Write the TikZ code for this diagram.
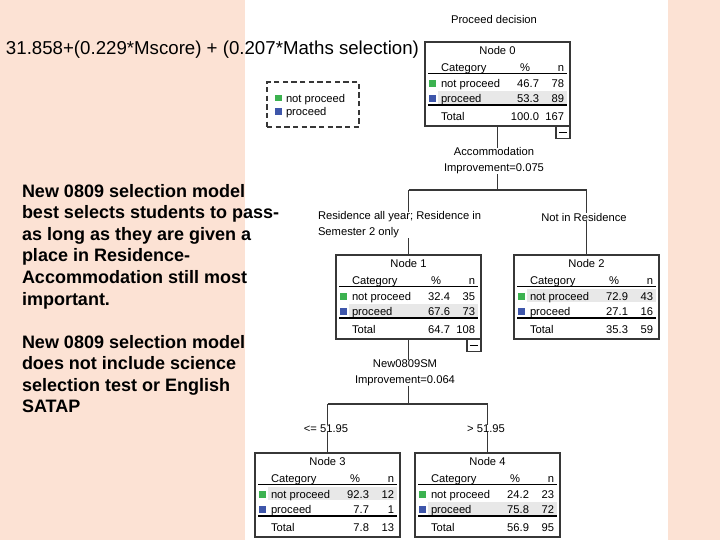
\documentclass[tikz,border=0pt]{standalone}
\usepackage{fontspec}
\setmainfont{Liberation Sans}
\definecolor{pinkbg}{RGB}{252,226,212}
\definecolor{npgreen}{RGB}{60,178,80}
\definecolor{pblue}{RGB}{62,86,170}
\definecolor{bandgrey}{RGB}{232,232,232}
\definecolor{boxgrey}{RGB}{55,55,55}
\newcommand\tsz{\fontsize{8.4pt}{12pt}\selectfont}
\tikzset{
  tt/.style={inner sep=0pt, outer sep=0pt, font=\tsz},
  lab/.style={inner sep=0pt, outer sep=0pt, font=\tsz, align=center},
  tabbox/.style={draw=boxgrey, line width=1pt, minimum width=108.75pt, minimum height=63pt, inner sep=0pt, outer sep=0pt, anchor=north west},
  sqmark/.style={inner sep=0pt, outer sep=0pt, minimum size=4.6pt},
  rulethin/.style={line width=0.75pt, black},
  rulethick/.style={line width=1.5pt, black},
  conn/.style={line width=0.8pt, boxgrey},
  minusbox/.style={draw=boxgrey, line width=0.9pt, minimum width=10.5pt, minimum height=9.5pt, inner sep=0pt, outer sep=0pt, anchor=north east},
  legbox/.style={draw=boxgrey, line width=1.1pt, dash pattern=on 4pt off 2.5pt, minimum width=69pt, minimum height=33.75pt, inner sep=0pt},
  lefttxt/.style={inner sep=0pt, outer sep=0pt, anchor=base west, font=\fontsize{13.5pt}{16pt}\selectfont\bfseries},
}
% #1 name, #2 number, #3 grey band y, #4 np %, #5 np n, #6 p %, #7 p n, #8 total %, #9 total n
\newcommand\carttable[9]{%
  \fill[bandgrey] (13,#3) rectangle (142,#3+13);
  \node[tabbox] (#1) at (0,0) {};
  \node[tt,anchor=base] (#1-h) at (72.5,12) {Node #2};
  \node[tt,anchor=base west] (#1-c) at (16,29) {Category};
  \node[tt,anchor=base] (#1-pc) at (100,29) {\%};
  \node[tt,anchor=base east] (#1-nc) at (139,29) {n};
  \draw[rulethin] (3,31.5) -- (142,31.5);
  \node[sqmark,fill=npgreen] (#1-s1) at (7.5,41.5) {};
  \node[tt,anchor=base west] (#1-l1) at (16,45) {not proceed};
  \node[tt,anchor=base east] (#1-p1) at (114,45) {#4};
  \node[tt,anchor=base east] (#1-n1) at (139,45) {#5};
  \node[sqmark,fill=pblue] (#1-s2) at (7.5,56.5) {};
  \node[tt,anchor=base west] (#1-l2) at (16,60) {proceed};
  \node[tt,anchor=base east] (#1-p2) at (114,60) {#6};
  \node[tt,anchor=base east] (#1-n2) at (139,60) {#7};
  \draw[rulethick] (3,62.5) -- (142,62.5);
  \node[tt,anchor=base west] (#1-l3) at (16,78) {Total};
  \node[tt,anchor=base east] (#1-p3) at (114,78) {#8};
  \node[tt,anchor=base east] (#1-n3) at (139,78) {#9};
}
\newcommand\minusmark[1]{%
  \node[minusbox] (#1-m) at (#1.south east) {};
  \draw[line width=0.8pt, black] ([xshift=2.2pt]#1-m.west) -- ([xshift=-2.2pt]#1-m.east);
}
\begin{document}
\begin{tikzpicture}[x=0.75pt,y=-0.75pt]
\useasboundingbox (0,0) rectangle (720,540);
\fill[pinkbg] (0,0) rectangle (720,540);
\fill[white] (245,0) rectangle (668,540);

% title and left text
\node[inner sep=0pt, outer sep=0pt, anchor=base west, font=\fontsize{14pt}{16pt}\selectfont] (title) at (6,54) {31.858+(0.229*Mscore) + (0.207*Maths selection)};
\node[lefttxt] (l1) at (22,197) {New 0809 selection model};
\node[lefttxt] (l2) at (22,218.6) {best selects students to pass-};
\node[lefttxt] (l3) at (22,240.2) {as long as they are given a};
\node[lefttxt] (l4) at (22,261.8) {place in Residence-};
\node[lefttxt] (l5) at (22,283.4) {Accommodation still most};
\node[lefttxt] (l6) at (22,305) {important.};
\node[lefttxt] (l7) at (22,348) {New 0809 selection model};
\node[lefttxt] (l8) at (22,369.6) {does not include science};
\node[lefttxt] (l9) at (22,391.2) {selection test or English};
\node[lefttxt] (l10) at (22,412.8) {SATAP};

% legend
\node[legbox] (leg) at (313,104.5) {};
\node[sqmark,fill=npgreen] (leg-s1) at (278.5,98) {};
\node[tt,anchor=base west] (leg-t1) at (286,102) {not proceed};
\node[sqmark,fill=pblue] (leg-s2) at (278.5,111.5) {};
\node[tt,anchor=base west] (leg-t2) at (286,115.5) {proceed};

% tree
\node[tt,anchor=base] (pd) at (494,23) {Proceed decision};
\begin{scope}[shift={(425,42)}]
  \carttable{n0}{0}{48.5}{46.7}{78}{53.3}{89}{100.0}{167}
\end{scope}
\minusmark{n0}
\begin{scope}[shift={(336,255)}]
  \carttable{n1}{1}{48.5}{32.4}{35}{67.6}{73}{64.7}{108}
\end{scope}
\minusmark{n1}
\begin{scope}[shift={(514,255)}]
  \carttable{n2}{2}{34}{72.9}{43}{27.1}{16}{35.3}{59}
\end{scope}
\begin{scope}[shift={(255,453)}]
  \carttable{n3}{3}{34}{92.3}{12}{7.7}{1}{7.8}{13}
\end{scope}
\begin{scope}[shift={(415,453)}]
  \carttable{n4}{4}{48.5}{24.2}{23}{75.8}{72}{56.9}{95}
\end{scope}

% split labels
\node[lab] (s0) at (494,161) {Accommodation\\Improvement=0.075};
\node[lab] (s1) at (405,373) {New0809SM\\Improvement=0.064};
\node[inner sep=0pt, outer sep=0pt, font=\tsz, align=left, anchor=west] (b1) at (318,225) {Residence all year; Residence in\\Semester 2 only};
\node[lab] (b2) at (584,217) {Not in Residence};
\node[lab] (b3) at (326,428.5) {<= 51.95};
\node[lab] (b4) at (486,428.5) {> 51.95};
\coordinate (j0) at (497,190);
\coordinate (j1) at (408,404);

% connectors
\draw[conn] (n0.south) -- (n0.south |- s0.north);
\draw[conn] (n0.south |- s0.south) -- (n0.south |- j0);
\draw[conn] (n1.north |- j0) -- (n2.north |- j0);
\draw[conn] (n1.north |- j0) -- (n1.north |- b1.north);
\draw[conn] (n1.north |- b1.south) -- (n1.north);
\draw[conn] (n2.north |- j0) -- (n2.north |- b2.north);
\draw[conn] (n2.north |- b2.south) -- (n2.north);
\draw[conn] (n1.south) -- (n1.south |- s1.north);
\draw[conn] (n1.south |- s1.south) -- (n1.south |- j1);
\draw[conn] (n3.north |- j1) -- (n4.north |- j1);
\draw[conn] (n3.north |- j1) -- (n3.north |- b3.north);
\draw[conn] (n3.north |- b3.south) -- (n3.north);
\draw[conn] (n4.north |- j1) -- (n4.north |- b4.north);
\draw[conn] (n4.north |- b4.south) -- (n4.north);
\end{tikzpicture}
\end{document}
